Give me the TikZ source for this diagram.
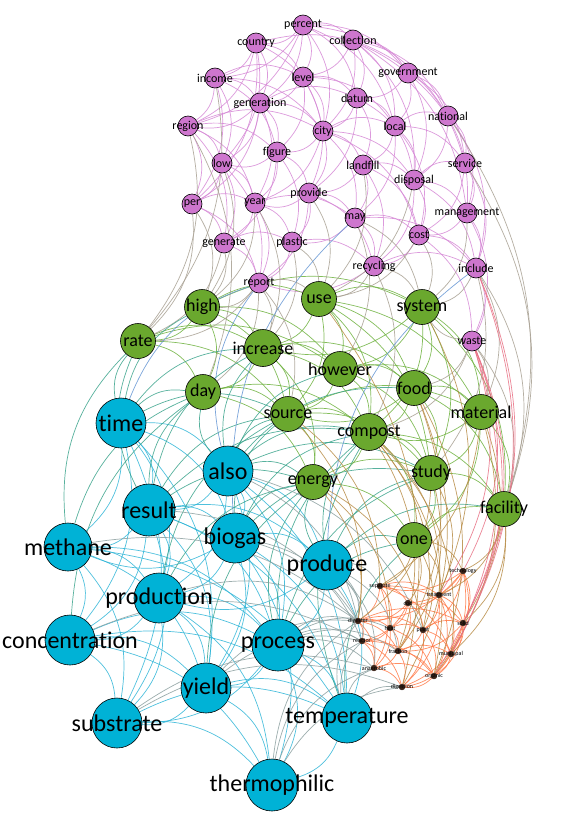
\documentclass[tikz,border=0pt]{standalone}
\usepackage{fontspec}
\setmainfont{Carlito}[Ligatures=NoCommon]
\usetikzlibrary{backgrounds}

\definecolor{nblue}{RGB}{0,178,214}
\definecolor{ngreen}{RGB}{106,168,46}
\definecolor{npurple}{RGB}{206,118,206}
\definecolor{norange}{RGB}{60,36,24}
\definecolor{lblue}{RGB}{48,182,216}
\definecolor{lgreen}{RGB}{110,178,62}
\definecolor{lpurple}{RGB}{214,136,214}
\definecolor{lorange}{RGB}{255,122,72}
\definecolor{lteal}{RGB}{58,164,140}
\definecolor{lgrey}{RGB}{168,160,146}
\definecolor{lslate}{RGB}{140,160,160}
\definecolor{lbrown}{RGB}{184,140,70}
\definecolor{lpink}{RGB}{232,112,132}
\definecolor{lsky}{RGB}{100,150,212}

\begin{document}
\begin{tikzpicture}[
    x=1pt, y=-1pt,
    word/.style={circle, draw=black, line width=0.6pt, inner sep=0pt},
    bluenode/.style={word, fill=nblue, minimum size=50pt,
      label={[font=\fontsize{24}{24}\selectfont]center:#1}},
    greennode/.style={word, fill=ngreen, minimum size=35pt,
      label={[font=\fontsize{18}{18}\selectfont]center:#1}},
    purplenode/.style={word, fill=npurple, minimum size=20pt,
      label={[font=\fontsize{12}{12}\selectfont]center:#1}},
    orangenode/.style={word, fill=norange, draw=norange, line width=0.3pt, minimum size=6pt,
      label={[font=\fontsize{6}{6}\selectfont]center:#1}},
    link/.style={line width=0.7pt, opacity=0.85, bend left=25},
    bblink/.style={link, draw=lblue},
    gglink/.style={link, draw=lgreen},
    pplink/.style={link, draw=lpurple},
    oolink/.style={link, draw=lorange},
    bglink/.style={link, draw=lteal},
    gplink/.style={link, draw=lgrey},
    bolink/.style={link, draw=lslate},
    golink/.style={link, draw=lbrown},
    polink/.style={link, draw=lpink},
    bplink/.style={link, draw=lsky}
  ]
  \useasboundingbox (0,0) rectangle (564,817);

  % Purple nodes
  \node [purplenode=percent] (percent) at (303,25) {};
  \node [purplenode=country] (country) at (256,43) {};
  \node [purplenode=collection] (collection) at (353,40) {};
  \node [purplenode=income] (income) at (215,78) {};
  \node [purplenode=level] (level) at (303,77) {};
  \node [purplenode=government] (government) at (408,73) {};
  \node [purplenode=generation] (generation) at (260,103) {};
  \node [purplenode=datum] (datum) at (357,98) {};
  \node [purplenode=region] (region) at (188,126) {};
  \node [purplenode=city] (city) at (323,131) {};
  \node [purplenode=local] (local) at (395,126) {};
  \node [purplenode=national] (national) at (448,116) {};
  \node [purplenode=figure] (figure) at (277,152) {};
  \node [purplenode=low] (low) at (222,163) {};
  \node [purplenode=landfill] (landfill) at (363,165) {};
  \node [purplenode=disposal] (disposal) at (414,180) {};
  \node [purplenode=service] (service) at (465,163) {};
  \node [purplenode=provide] (provide) at (309,193) {};
  \node [purplenode=per] (per) at (192,204) {};
  \node [purplenode=year] (year) at (255,203) {};
  \node [purplenode=may] (may) at (355,218) {};
  \node [purplenode=management] (management) at (467,213) {};
  \node [purplenode=cost] (cost) at (419,235) {};
  \node [purplenode=generate] (generate) at (224,243) {};
  \node [purplenode=plastic] (plastic) at (292,242) {};
  \node [purplenode=recycling] (recycling) at (374,266) {};
  \node [purplenode=include] (include) at (476,268) {};
  \node [purplenode=report] (report) at (259,283) {};
  \node [purplenode=waste] (waste) at (472,341) {};

  % Green nodes
  \node [greennode=high] (high) at (202,307) {};
  \node [greennode=use] (use) at (319,299) {};
  \node [greennode=system] (system) at (422,307) {};
  \node [greennode=rate] (rate) at (138,341) {};
  \node [greennode=increase, minimum size=37pt] (increase) at (263,348) {};
  \node [greennode=however] (however) at (340,369) {};
  \node [greennode=food] (food) at (414,388) {};
  \node [greennode=day] (day) at (203,392) {};
  \node [greennode=source] (source) at (288,414) {};
  \node [greennode=material] (material) at (481,412) {};
  \node [greennode=compost, minimum size=37pt] (compost) at (369,432) {};
  \node [greennode=energy] (energy) at (313,482) {};
  \node [greennode=study] (study) at (431,473) {};
  \node [greennode=one] (one) at (414,540) {};
  \node [greennode=facility] (facility) at (504,509) {};

  % Blue nodes
  \node [bluenode=time] (time) at (121,423) {};
  \node [bluenode=also] (also) at (228,471) {};
  \node [bluenode=result, minimum size=52pt] (result) at (149,510) {};
  \node [bluenode=biogas] (biogas) at (235,538) {};
  \node [bluenode=methane, minimum size=48pt] (methane) at (68,547) {};
  \node [bluenode=produce] (produce) at (327,565) {};
  \node [bluenode=production] (production) at (159,598) {};
  \node [bluenode=concentration] (concentration) at (70,640) {};
  \node [bluenode=process, minimum size=52pt] (process) at (278,645) {};
  \node [bluenode=yield] (yield) at (206,688) {};
  \node [bluenode=substrate] (substrate) at (117,723) {};
  \node [bluenode=temperature] (temperature) at (347,718) {};
  \node [bluenode=thermophilic, minimum size=52pt] (thermophilic) at (272,785) {};

  % Orange nodes
  \node [orangenode=technology] (technology) at (463,571) {};
  \node [orangenode=separate] (separate) at (380,586) {};
  \node [orangenode=treatment] (treatment) at (439,595) {};
  \node [orangenode=cod] (cod) at (408,603) {};
  \node [orangenode=digester] (digester) at (358,621) {};
  \node [orangenode=heat] (heat) at (390,628) {};
  \node [orangenode=plant] (plant) at (423,630) {};
  \node [orangenode=solid] (solid) at (463,623) {};
  \node [orangenode=reactor] (reactor) at (362,641) {};
  \node [orangenode=fraction] (fraction) at (398,651) {};
  \node [orangenode=municipal] (municipal) at (451,654) {};
  \node [orangenode=anaerobic] (anaerobic) at (374,668) {};
  \node [orangenode=organic] (organic) at (434,676) {};
  \node [orangenode=digestion] (digestion) at (402,687) {};

  % Edges
  \begin{scope}[on background layer]
  \fill [white] (0,0) rectangle (564,817);

  \foreach \a/\b in {percent/country, percent/collection, percent/level, percent/government,
      percent/region, percent/national, percent/city, percent/generation, percent/income,
      percent/datum, percent/local, country/income, country/level, country/generation,
      country/city, country/government, country/region, country/low, country/per,
      collection/government, collection/datum, collection/local, collection/national,
      collection/level, collection/city, collection/disposal, collection/service,
      collection/management, income/region, income/level, income/generation, income/low,
      income/per, income/figure, income/city, level/generation, level/city, level/datum,
      level/figure, level/local, level/provide, government/national, government/local,
      government/datum, government/service, government/disposal, government/management,
      generation/city, generation/figure, generation/low, generation/year, generation/region,
      generation/per, generation/datum, datum/city, datum/local, datum/landfill, datum/provide,
      datum/disposal, region/low, region/per, region/generate, region/year, region/figure,
      region/city, city/local, city/figure, city/landfill, city/provide, city/year, city/may,
      city/disposal, city/cost, local/national, local/landfill, local/disposal, local/service,
      local/cost, local/may, national/service, national/management, national/disposal,
      national/include, figure/low, figure/year, figure/provide, figure/plastic, figure/generate,
      low/per, low/year, low/generate, low/report, landfill/disposal, landfill/cost, landfill/may,
      landfill/recycling, landfill/provide, disposal/service, disposal/management, disposal/cost,
      disposal/include, disposal/recycling, service/management, service/include, service/cost,
      provide/year, provide/may, provide/plastic, provide/report, provide/recycling, per/year,
      per/generate, per/report, year/generate, year/plastic, year/report, year/may, may/cost,
      may/recycling, may/plastic, may/include, management/cost, management/include,
      management/waste, cost/recycling, cost/include, cost/waste, generate/plastic,
      generate/report, plastic/report, plastic/recycling, recycling/include, recycling/report,
      include/waste}
    \draw [pplink] (\a) to (\b);

  \foreach \a/\b in {high/use, high/system, high/rate, high/increase, high/day, high/however,
      high/source, use/system, use/increase, use/however, use/food, use/material, use/compost,
      use/source, use/study, system/food, system/material, system/however, system/compost,
      system/facility, system/study, system/increase, rate/increase, rate/day, rate/source,
      rate/however, increase/however, increase/day, increase/source, increase/compost,
      increase/food, increase/energy, however/food, however/compost, however/source,
      however/material, however/study, food/material, food/compost, food/study, food/source,
      food/facility, day/source, day/energy, day/compost, source/compost, source/energy,
      source/study, source/material, material/compost, material/study, material/facility,
      material/one, compost/study, compost/energy, compost/one, compost/facility, energy/study,
      energy/one, study/one, study/facility, one/facility}
    \draw [gglink] (\a) to (\b);

  \foreach \a/\b in {time/result, time/also, time/methane, time/production, time/biogas,
      time/concentration, also/result, also/biogas, also/produce, also/production, also/process,
      also/yield, result/biogas, result/methane, result/production, result/concentration,
      result/process, result/yield, result/produce, biogas/production, biogas/produce,
      biogas/process, biogas/yield, biogas/methane, biogas/temperature, methane/concentration,
      methane/production, methane/substrate, methane/yield, methane/process, produce/process,
      produce/production, produce/temperature, production/concentration, production/yield,
      production/process, production/substrate, concentration/substrate, concentration/yield,
      concentration/process, concentration/thermophilic, concentration/temperature,
      process/yield, process/temperature, process/thermophilic, process/substrate,
      yield/substrate, yield/temperature, yield/thermophilic, substrate/thermophilic,
      substrate/temperature, temperature/thermophilic, time/substrate, result/substrate,
      result/temperature, methane/temperature, biogas/thermophilic, also/temperature,
      production/thermophilic, time/yield}
    \draw [bblink] (\a) to (\b);

  \foreach \a/\b in {technology/treatment, technology/solid, technology/cod, technology/separate,
      technology/municipal, technology/plant, separate/treatment, separate/digester, separate/cod,
      separate/heat, separate/solid, treatment/cod, treatment/solid, treatment/plant,
      treatment/municipal, treatment/organic, cod/digester, cod/heat, cod/plant, cod/fraction,
      cod/reactor, digester/heat, digester/reactor, digester/fraction, digester/anaerobic,
      digester/plant, digester/solid, heat/reactor, heat/fraction, heat/plant, heat/anaerobic,
      heat/organic, plant/solid, plant/municipal, plant/fraction, plant/organic, plant/digestion,
      solid/municipal, solid/organic, solid/fraction, reactor/fraction, reactor/anaerobic,
      reactor/digestion, reactor/organic, fraction/municipal, fraction/anaerobic,
      fraction/organic, fraction/digestion, municipal/organic, municipal/digestion,
      anaerobic/digestion, anaerobic/organic, organic/digestion, technology/digester,
      technology/organic, separate/municipal, treatment/digestion, solid/digestion,
      separate/anaerobic}
    \draw [oolink] (\a) to (\b);

  \foreach \a/\b in {report/high, report/use, report/rate, report/increase, generate/high,
      generate/rate, per/rate, per/high, low/high, year/high, year/increase, plastic/use,
      plastic/increase, recycling/use, recycling/system, recycling/compost, cost/system,
      cost/use, include/system, include/material, include/facility, waste/system,
      waste/material, waste/food, waste/facility, management/system, disposal/use, landfill/use,
      may/system, may/however, provide/use, income/rate, region/rate, region/day,
      national/facility, service/facility, waste/compost, include/study, report/source,
      report/day}
    \draw [gplink] (\a) to (\b);

  \foreach \a/\b in {time/day, time/rate, time/increase, time/high, time/source, also/increase,
      also/source, also/day, also/energy, also/compost, also/however, also/study, also/food,
      result/rate, result/day, result/source, result/energy, result/increase, result/compost,
      biogas/energy, biogas/source, biogas/compost, biogas/study, produce/energy, produce/one,
      produce/compost, produce/study, process/energy, process/one, process/compost,
      production/energy, production/source, yield/energy, methane/rate, methane/day,
      concentration/day, temperature/one, temperature/compost, produce/facility, process/study}
    \draw [bglink] (\a) to (\b);

  \foreach \a/\b in {time/report, also/report, biogas/may, produce/include}
    \draw [bplink] (\a) to (\b);

  \foreach \a/\b in {produce/digester, produce/separate, produce/reactor, produce/anaerobic,
      produce/fraction, process/digester, process/reactor, process/anaerobic, process/fraction,
      process/heat, biogas/digester, biogas/reactor, also/digester, also/plant,
      temperature/anaerobic, temperature/digestion, temperature/reactor, temperature/digester,
      thermophilic/digestion, thermophilic/anaerobic, thermophilic/reactor, thermophilic/digester,
      yield/digester, yield/reactor, result/digester, production/digester, methane/digester,
      concentration/reactor, substrate/digestion, substrate/anaerobic}
    \draw [bolink] (\a) to (\b);

  \foreach \a/\b in {compost/organic, compost/treatment, compost/fraction, compost/plant,
      compost/municipal, study/fraction, study/treatment, study/digester, one/treatment,
      one/technology, one/cod, one/separate, one/plant, facility/municipal, facility/treatment,
      facility/technology, facility/solid, material/solid, material/organic, material/separate,
      food/organic, food/fraction, food/digestion, source/separate, source/digester,
      energy/digester, energy/heat, energy/plant, use/digestion, system/treatment}
    \draw [golink] (\a) to (\b);

  \foreach \a/\b in {waste/solid, waste/municipal, waste/technology, waste/organic,
      waste/treatment, include/municipal, include/solid}
    \draw [polink] (\a) to (\b);
  \end{scope}
\end{tikzpicture}
\end{document}
